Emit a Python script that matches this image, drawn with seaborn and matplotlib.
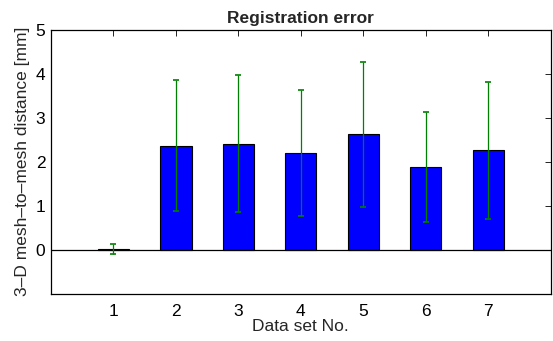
import matplotlib
matplotlib.use("Agg")
import matplotlib.pyplot as plt
import seaborn as sns
import pandas as pd

# Data
data_sets = ["1", "2", "3", "4", "5", "6", "7"]
mean_dist = [0.02, 2.37, 2.41, 2.19, 2.62, 1.88, 2.26]
std_dist = [0.11, 1.48, 1.55, 1.43, 1.64, 1.24, 1.56]

df = pd.DataFrame({"Data set": data_sets, "Distance": mean_dist, "Std": std_dist})

sns.set_style("white")
plt.rcParams['font.family'] = ['Liberation Sans', 'DejaVu Sans']

fig = plt.figure(figsize=(5.53, 3.41), dpi=100)
ax = fig.add_axes([0.0922, 0.138, 0.9036, 0.775])

sns.barplot(data=df, x="Data set", y="Distance", color="#0000ff", saturation=1,
            width=0.5, edgecolor="black", linewidth=0.8, errorbar=None, ax=ax)

# Error bars (mean +/- std)
ax.errorbar(range(len(data_sets)), df["Distance"], yerr=df["Std"], fmt="none",
            ecolor="#008000", elinewidth=0.9, capsize=2.5, capthick=1.2, zorder=3)

# Baseline at zero
ax.axhline(0, color="black", linewidth=0.9, zorder=2)

ax.set_xlim(-1, 7)
ax.set_ylim(-1, 5)
ax.set_yticks([0, 1, 2, 3, 4, 5])
ax.set_xticks(range(len(data_sets)))
ax.set_xticklabels(data_sets)

ax.tick_params(direction="in", top=True, right=True, length=4, width=0.6,
               labelsize=12.5, pad=4, colors="black")
ax.tick_params(axis="x", pad=7)
for s in ax.spines.values():
    s.set_visible(True)
    s.set_color("black")
    s.set_linewidth(0.9)

ax.set_title("Registration error", fontsize=12.5, fontweight="bold", pad=5)
ax.set_xlabel("Data set No.", fontsize=12.5, labelpad=0)
ax.set_ylabel("3\u2013D mesh\u2013to\u2013mesh distance [mm]", fontsize=12.5, labelpad=4)

fig.savefig("out.png", dpi=100)
